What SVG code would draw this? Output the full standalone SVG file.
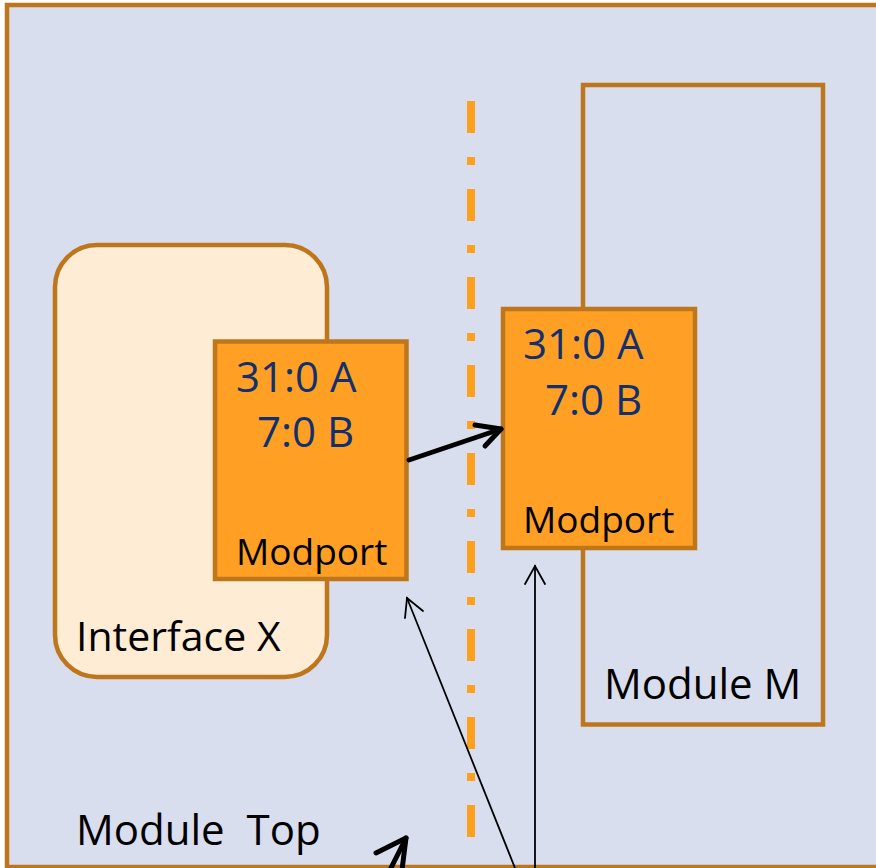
<svg xmlns="http://www.w3.org/2000/svg" width="876" height="868" viewBox="0 0 876 868">
  <style>
    .frame { stroke: #BE761C; stroke-width: 4.5; }
    .label { font-family: "Open Sans", "Noto Sans", sans-serif; fill: #000; }
    .bits { font-family: "Open Sans", "Noto Sans", sans-serif; fill: #12306E; font-size: 42px; }
    .port { fill: #FFA024; }
    .thick { stroke: #000; stroke-width: 5; fill: none; stroke-linecap: round; stroke-linejoin: round; }
    .thin { stroke: #000; stroke-width: 1.8; fill: none; stroke-linecap: round; stroke-linejoin: miter; }
  </style>

  <!-- Module Top: enclosing block -->
  <g id="module-top">
    <rect x="7" y="5" width="900" height="862" fill="#D9DEEE" class="frame"/>
    <text class="label" x="76" y="845" font-size="42" xml:space="preserve">Module  Top</text>
  </g>

  <!-- boundary line between the two sides -->
  <g id="boundary">
    <line x1="471" y1="101" x2="471" y2="837" stroke="#FF9F1E" stroke-width="8" stroke-dasharray="32 24 8 24"/>
  </g>

  <!-- Module M -->
  <g id="module-m">
    <rect x="583" y="85" width="240" height="639.5" fill="none" class="frame"/>
    <text class="label" x="604" y="699" font-size="42">Module M</text>
  </g>

  <!-- Interface X -->
  <g id="interface-x">
    <rect x="55" y="245" width="272" height="432" rx="42" ry="42" fill="#FFECD5" class="frame"/>
    <text class="label" x="76" y="651" font-size="41">Interface X</text>
  </g>

  <!-- modport of Interface X -->
  <g id="modport-x">
    <rect x="215" y="341.5" width="191.5" height="237.5" class="port frame" stroke-width="4"/>
    <text class="bits" x="236" y="392">31:0 A</text>
    <text class="bits" x="257" y="447">7:0 B</text>
    <text class="label" x="236" y="565" font-size="37">Modport</text>
  </g>

  <!-- modport of Module M -->
  <g id="modport-m">
    <rect x="503" y="309" width="192" height="239" class="port frame" stroke-width="4"/>
    <text class="bits" x="523" y="359">31:0 A</text>
    <text class="bits" x="545" y="415">7:0 B</text>
    <text class="label" x="523" y="533" font-size="37">Modport</text>
  </g>

  <!-- connectors -->
  <g id="connectors">
    <!-- modport to modport -->
    <path class="thick" d="M409 460 L501 429"/>
    <path class="thick" d="M475 425 L501 429 L485 446"/>
    <!-- pointer to the interface modport -->
    <path class="thin" d="M515 868 L407 598"/>
    <path class="thin" d="M405 618 L407 598 L423 611"/>
    <!-- pointer to the module modport -->
    <path class="thin" d="M535 868 L535 566"/>
    <path class="thin" d="M525 584 L535 566 L545 584"/>
    <!-- pointer entering from below -->
    <path class="thick" stroke-width="7" d="M406 838 L385 880"/>
    <path class="thick" stroke-width="6" d="M376 853 L406 838 L402 870"/>
  </g>
</svg>
